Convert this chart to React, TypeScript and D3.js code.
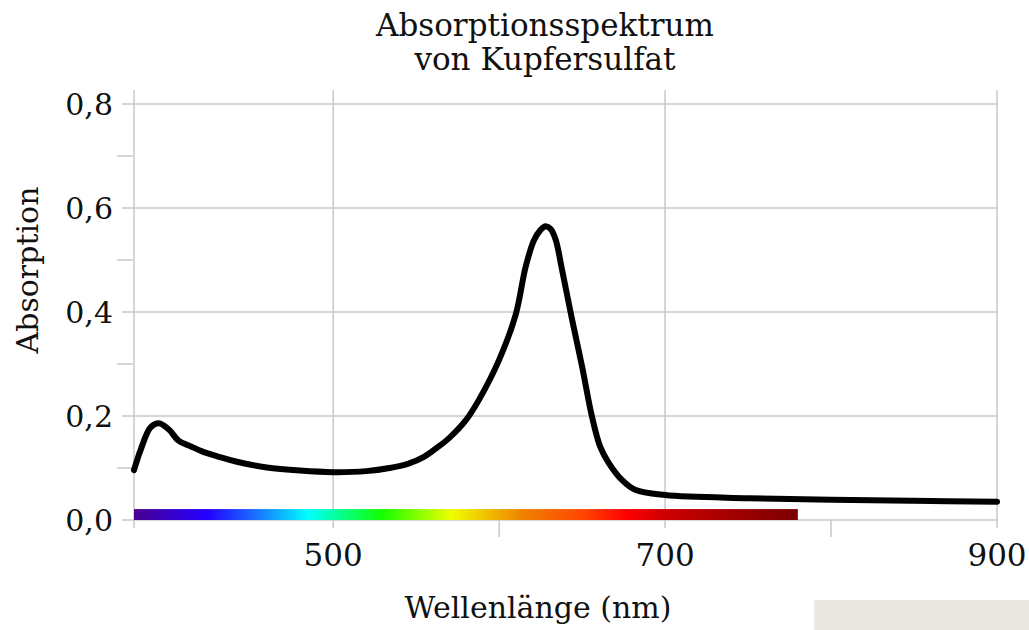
import React from 'react';
import * as d3 from 'd3';

// Absorption spectrum of copper sulfate
const wavelengths = [380, 384, 390, 395, 401, 407, 414, 421, 432, 442, 460, 480, 500, 520, 534, 545, 555, 563, 570, 580, 588, 600, 610, 616, 621, 625, 628, 631, 634, 638, 644, 650, 656, 661, 666, 674, 682, 700, 750, 800, 850, 900];
const absorption = [0.096, 0.135, 0.178, 0.186, 0.174, 0.152, 0.142, 0.132, 0.121, 0.112, 0.101, 0.095, 0.092, 0.094, 0.1, 0.108, 0.122, 0.14, 0.158, 0.192, 0.232, 0.308, 0.395, 0.487, 0.538, 0.558, 0.565, 0.56, 0.54, 0.48, 0.385, 0.295, 0.198, 0.14, 0.11, 0.077, 0.058, 0.048, 0.042, 0.039, 0.037, 0.035];

const xMajorTicks = [500, 700, 900];
const xMinorTicks = [600, 800];
const yMajorTicks = [0, 0.2, 0.4, 0.6, 0.8];
const yMinorTicks = [0.1, 0.3, 0.5, 0.7];

// visible spectrum band below the curve
const spectrumNm = [380, 424, 452, 485, 529, 571, 615, 651, 677, 700, 780];
const spectrumColors = ['#4a0090', '#2200ff', '#1a6aff', '#00ffff', '#11ff00', '#eeff00', '#f08000', '#ff4400', '#ff0000', '#cc0000', '#7a0000'];
const spectrumRange = [380, 780];

const W = 1029;
const H = 630;
const font = '"DejaVu Serif", "Liberation Serif", serif';
const grid = '#c8c8c8';

export default function App() {
  const x = d3.scaleLinear().domain([380, 900]).range([134, 997]);
  const y = d3.scaleLinear().domain([0, 0.8]).range([520, 104]);

  const points: [number, number][] = wavelengths.map((w, i) => [w, absorption[i]]);
  const line = d3.line<[number, number]>()
    .x(d => x(d[0]))
    .y(d => y(d[1]))
    .curve(d3.curveCatmullRom.alpha(0.5));

  const fmt = (v: number) => d3.format('.1f')(v).replace('.', ',');
  const span = spectrumRange[1] - spectrumRange[0];

  return (
    <div style={{ position: 'absolute', left: 0, top: 0 }}>
      <svg width={W} height={H} style={{ display: 'block', background: '#fff' }}>
        <defs>
          <linearGradient id="spec" gradientUnits="userSpaceOnUse"
            x1={x(spectrumRange[0])} x2={x(spectrumRange[1])} y1={0} y2={0}>
            {spectrumNm.map((nm, i) => (
              <stop key={nm} offset={(nm - spectrumRange[0]) / span} stopColor={spectrumColors[i]} />
            ))}
          </linearGradient>
        </defs>

        {/* grid */}
        {yMajorTicks.map(t => (
          <line key={'yg' + t} x1={122} x2={x(900)} y1={y(t)} y2={y(t)} stroke={grid} strokeWidth={1.5} />
        ))}
        {yMinorTicks.map(t => (
          <line key={'ym' + t} x1={117} x2={x(380)} y1={y(t)} y2={y(t)} stroke={grid} strokeWidth={1.5} />
        ))}
        {xMajorTicks.map(t => (
          <line key={'xg' + t} x1={x(t)} x2={x(t)} y1={90} y2={528} stroke={grid} strokeWidth={1.5} />
        ))}
        {xMinorTicks.map(t => (
          <line key={'xm' + t} x1={x(t)} x2={x(t)} y1={y(0)} y2={537} stroke={grid} strokeWidth={1.5} />
        ))}
        <line x1={x(380)} x2={x(380)} y1={90} y2={528} stroke={grid} strokeWidth={1.5} />

        {/* spectrum bar */}
        <rect x={x(spectrumRange[0])} y={y(0.021)} width={x(spectrumRange[1]) - x(spectrumRange[0])}
          height={y(0) - y(0.021)} fill="url(#spec)" />

        {/* curve */}
        <path d={line(points) || ''} fill="none" stroke="#000" strokeWidth={6}
          strokeLinecap="round" strokeLinejoin="round" />

        {/* tick labels */}
        {yMajorTicks.map(t => (
          <text key={'yl' + t} x={113} y={y(t) + 11} textAnchor="end" fontFamily={font} fontSize={30} fill="#111">
            {fmt(t)}
          </text>
        ))}
        {xMajorTicks.map(t => (
          <text key={'xl' + t} x={x(t)} y={566} textAnchor="middle" fontFamily={font} fontSize={31} fill="#111">
            {t}
          </text>
        ))}

        {/* titles */}
        <text x={545} y={36} textAnchor="middle" fontFamily={font} fontSize={31} fill="#111">Absorptionsspektrum</text>
        <text x={545} y={70} textAnchor="middle" fontFamily={font} fontSize={31} fill="#111">von Kupfersulfat</text>
        <text x={538} y={618} textAnchor="middle" fontFamily={font} fontSize={30} fill="#111">Wellenlänge (nm)</text>
        <text transform="translate(38,270) rotate(-90)" textAnchor="middle" fontFamily={font} fontSize={30} fill="#111">Absorption</text>

        <rect x={814} y={600} width={W - 814} height={30} fill="#ebe7e2" />
      </svg>
    </div>
  );
}
